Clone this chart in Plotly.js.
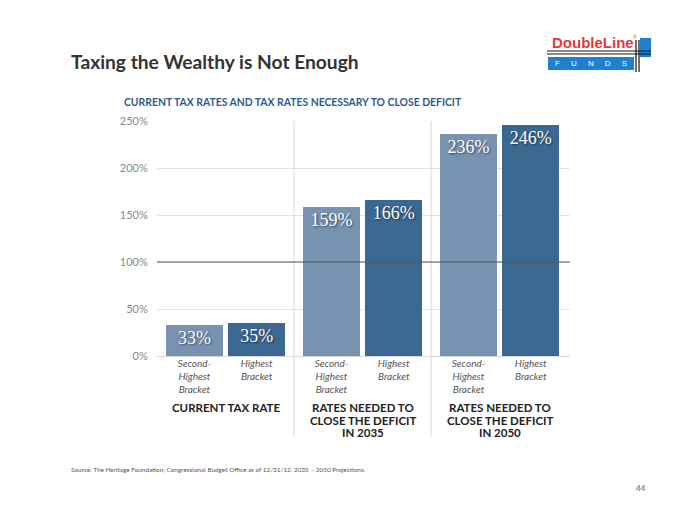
<!DOCTYPE html>
<html><head><meta charset="utf-8">
<script src="https://cdn.plot.ly/plotly-3.0.1.min.js"></script>
<style>body{margin:0;background:#fff}</style>
</head><body><div id="chart" style="width:700px;height:525px"></div>
<script>
// ---- data ----
const groupLabels = ["CURRENT TAX RATE", "RATES NEEDED TO<br>CLOSE THE DEFICIT<br>IN 2035", "RATES NEEDED TO<br>CLOSE THE DEFICIT<br>IN 2050"];
const bracketLabels = ["Second-<br>Highest<br>Bracket", "Highest<br>Bracket"];
const secondHighest = [33, 159, 236];
const highest = [35, 166, 246];
const yTickVals = [0, 50, 100, 150, 200, 250];
const yTickText = ["0%", "50%", "100%", "150%", "200%", "250%"];
const title = "Taxing the Wealthy is Not Enough";
const subtitle = "CURRENT TAX RATES AND TAX RATES NECESSARY TO CLOSE DEFICIT";
const source = "Source: The Heritage Foundation; Congressional Budget Office as of 12/31/12. 2035 \u2013 2050 Projections.";
const pageNum = "44";

// ---- layout helpers ----
const W = 700, H = 525, L = 157, R = 570, T = 121, B = 356;
const px = v => (v - L) / (R - L);
const py = v => (B - v) / (B - T);
const GAP = 2.2;
const xs = (g, b) => g * GAP + b;
const groups = secondHighest.map((_, i) => i);
const labelFont = {family: 'Liberation Serif', size: 18, color: '#fff', shadow: '1px 1px 2px rgba(0,0,0,0.55)'};

const traces = [
  {type: 'bar', x: groups.map(g => xs(g, 0)), y: secondHighest, width: 0.92,
   marker: {color: '#7892b2'}, text: secondHighest.map(v => v + '%'),
   textposition: 'inside', insidetextanchor: 'end', constraintext: 'none',
   textfont: labelFont, hoverinfo: 'skip'},
  {type: 'bar', x: groups.map(g => xs(g, 1)), y: highest, width: 0.92,
   marker: {color: '#3b6891'}, text: highest.map(v => v + '%'),
   textposition: 'inside', insidetextanchor: 'end', constraintext: 'none',
   textfont: labelFont, hoverinfo: 'skip'}
];

const tickvals = [], ticktext = [];
groups.forEach(g => { [0, 1].forEach(b => { tickvals.push(xs(g, b)); ticktext.push('<i>' + bracketLabels[b] + '</i>'); }); });

const shapes = [];
for (let g = 0; g < groups.length - 1; g++) {
  const xm = (xs(g, 1) + xs(g + 1, 0)) / 2;
  shapes.push({type: 'line', xref: 'x', yref: 'paper', x0: xm, x1: xm, y0: py(437), y1: 1, line: {color: '#d6d6d6', width: 1}});
}
shapes.push({type: 'line', xref: 'paper', yref: 'y', x0: 0, x1: 1, y0: 100, y1: 100, line: {color: '#555', width: 1}});

// logo shapes
shapes.push({type: 'rect', xref: 'paper', yref: 'paper', x0: px(548), x1: px(634), y0: py(70), y1: py(57), fillcolor: '#1f7fd0', line: {width: 0}});
shapes.push({type: 'rect', xref: 'paper', yref: 'paper', x0: px(640), x1: px(651), y0: py(57), y1: py(38), fillcolor: '#1f7fd0', line: {width: 0}});
shapes.push({type: 'line', xref: 'paper', yref: 'paper', x0: px(547), x1: px(651), y0: py(51), y1: py(51), line: {color: '#111', width: 1.2}});
shapes.push({type: 'line', xref: 'paper', yref: 'paper', x0: px(547), x1: px(651), y0: py(54), y1: py(54), line: {color: '#111', width: 1.2}});
shapes.push({type: 'line', xref: 'paper', yref: 'paper', x0: px(636), x1: px(636), y0: py(72), y1: py(40), line: {color: '#111', width: 1.2}});
shapes.push({type: 'line', xref: 'paper', yref: 'paper', x0: px(639), x1: px(639), y0: py(72), y1: py(40), line: {color: '#111', width: 1.2}});

const annotations = [];
groups.forEach(g => {
  const lines = groupLabels[g].split('<br>');
  lines.forEach((ln, i) => {
    annotations.push({xref: 'x', yref: 'paper', x: (xs(g, 0) + xs(g, 1)) / 2, y: py(408 + i * 12),
      text: '<b>' + ln + '</b>', showarrow: false, xanchor: 'center', yanchor: 'middle',
      font: {family: 'Lato', size: 11.5, color: '#222'}});
  });
});
annotations.push({xref: 'paper', yref: 'paper', x: px(122), y: py(102), xanchor: 'left', yanchor: 'middle', showarrow: false,
  text: '<b>' + subtitle + '</b>', font: {family: 'Lato', size: 10.4, color: '#2b5b8e'}});
annotations.push({xref: 'paper', yref: 'paper', x: px(69), y: py(62), xanchor: 'left', yanchor: 'middle', showarrow: false,
  text: '<b>' + title + '</b>', font: {family: 'Lato', size: 19.2, color: '#333'}});
annotations.push({xref: 'paper', yref: 'paper', x: px(69), y: py(469), xanchor: 'left', yanchor: 'middle', showarrow: false,
  text: source, font: {family: 'Lato', size: 6.4, color: '#555'}});
annotations.push({xref: 'paper', yref: 'paper', x: px(648), y: py(488), xanchor: 'right', yanchor: 'middle', showarrow: false,
  text: '<b>' + pageNum + '</b>', font: {family: 'Lato', size: 8, color: '#888'}});
annotations.push({xref: 'paper', yref: 'paper', x: px(550), y: py(43), xanchor: 'left', yanchor: 'middle', showarrow: false,
  text: '<b>DoubleLine</b>', font: {family: 'Liberation Sans', size: 15, color: '#e2393d'}});
annotations.push({xref: 'paper', yref: 'paper', x: px(631), y: py(37), xanchor: 'left', yanchor: 'middle', showarrow: false,
  text: '®', font: {family: 'Liberation Sans', size: 5, color: '#e2393d'}});
annotations.push({xref: 'paper', yref: 'paper', x: px(591), y: py(64), xanchor: 'center', yanchor: 'middle', showarrow: false,
  text: 'F&nbsp;&nbsp;&nbsp;&nbsp;&nbsp;U&nbsp;&nbsp;&nbsp;&nbsp;&nbsp;N&nbsp;&nbsp;&nbsp;&nbsp;&nbsp;D&nbsp;&nbsp;&nbsp;&nbsp;&nbsp;S', font: {family: 'Liberation Sans', size: 8, color: '#fff'}});

const layout = {
  width: W, height: H,
  margin: {l: L, r: W - R, t: T, b: H - B},
  paper_bgcolor: '#fff', plot_bgcolor: '#fff',
  showlegend: false, bargap: 0,
  xaxis: {range: [-0.6, 6.03], tickvals: tickvals, ticktext: ticktext, showgrid: false, zeroline: false,
    showline: false, ticks: '', tickfont: {family: 'Lato', size: 10, color: '#555'}, fixedrange: true},
  yaxis: {range: [0, 250], tickvals: yTickVals, ticktext: yTickText, showgrid: true, gridcolor: '#e4e4e4',
    zeroline: true, zerolinecolor: '#dcdcdc', zerolinewidth: 1, ticks: 'outside', ticklen: 6, tickcolor: 'rgba(0,0,0,0)',
    tickfont: {family: 'Lato', size: 11, color: '#888'}, fixedrange: true},
  shapes: shapes, annotations: annotations
};
Plotly.newPlot('chart', traces, layout, {displayModeBar: false, staticPlot: true});
</script></body></html>
